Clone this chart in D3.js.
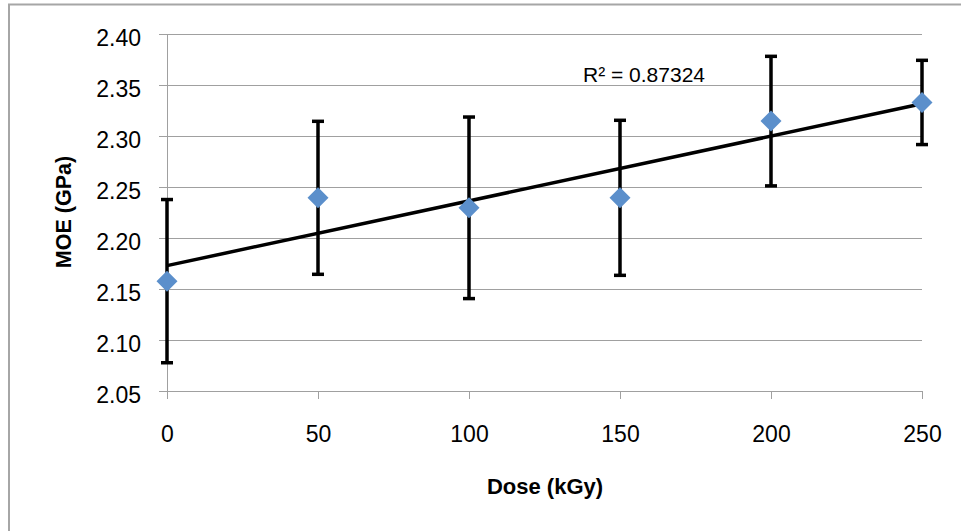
<!DOCTYPE html>
<html>
<head>
<meta charset="utf-8">
<script src="https://cdn.jsdelivr.net/npm/d3@7"></script>
<style>
  body { margin: 0; background: #fff; }
  svg { display: block; }
</style>
</head>
<body>
<svg id="chart"></svg>
<script>
/* data */
var doses = [0, 50, 100, 150, 200, 250];
var moe = [2.1577, 2.2394, 2.2296, 2.2394, 2.3146, 2.3329];
var moeErr = [0.080, 0.075, 0.089, 0.076, 0.0635, 0.0413];
var xTicks = [0, 50, 100, 150, 200, 250];
var yTicks = [2.05, 2.10, 2.15, 2.20, 2.25, 2.30, 2.35, 2.40];
var r2Label = "R\u00b2 = 0.87324";

var W = 961, H = 531;
var margin = {left: 167, right: 39, top: 34, bottom: 140};

var svg = d3.select('#chart')
    .attr('width', W)
    .attr('height', H);

// outer chart border (only top and left edges fall inside the frame)
svg.append('rect')
    .attr('x', 9).attr('y', 4.5)
    .attr('width', W + 20).attr('height', H + 20)
    .attr('fill', 'none')
    .attr('stroke', '#a6a6a6')
    .attr('stroke-width', 2);

var x = d3.scaleLinear().domain([0, 250]).range([margin.left, W - margin.right]);
var y = d3.scaleLinear().domain([2.05, 2.40]).range([H - margin.bottom, margin.top]);

var gridColor = '#a0a0a0';
var font = "'Liberation Sans', Arial, sans-serif";

// horizontal gridlines + y ticks
var yAxis = svg.append('g')
    .attr('transform', `translate(${margin.left},0)`)
    .call(d3.axisLeft(y).tickValues(yTicks).tickSize(8).tickSizeOuter(0).tickFormat(d3.format('.2f')));
yAxis.select('.domain').attr('stroke', gridColor).attr('stroke-width', 1.5);
yAxis.selectAll('.tick line').attr('stroke', gridColor).attr('stroke-width', 1.5);
yAxis.selectAll('.tick').append('line')
    .attr('x1', 0).attr('x2', x(250) - margin.left)
    .attr('stroke', gridColor).attr('stroke-width', 1.5);
yAxis.selectAll('.tick text')
    .attr('x', -26)
    .attr('dy', '0.48em')
    .attr('font-family', font)
    .attr('font-size', '23px')
    .attr('fill', '#000');

// x axis
var xAxis = svg.append('g')
    .attr('transform', `translate(0,${y(2.05)})`)
    .call(d3.axisBottom(x).tickValues(xTicks).tickSize(8).tickSizeOuter(0));
xAxis.select('.domain').attr('stroke', gridColor).attr('stroke-width', 1.5);
xAxis.selectAll('.tick line').attr('stroke', gridColor).attr('stroke-width', 1.5);
xAxis.selectAll('.tick text')
    .attr('y', 35)
    .attr('font-family', font)
    .attr('font-size', '23px')
    .attr('fill', '#000');
svg.selectAll('.domain, .tick line').attr('shape-rendering', 'crispEdges');

// axis titles
svg.append('text')
    .attr('x', 545).attr('y', 494)
    .attr('text-anchor', 'middle')
    .attr('font-family', font)
    .attr('font-weight', 'bold')
    .attr('font-size', '22px')
    .text('Dose (kGy)');

svg.append('text')
    .attr('transform', 'translate(71,212) rotate(-90)')
    .attr('text-anchor', 'middle')
    .attr('font-family', font)
    .attr('font-weight', 'bold')
    .attr('font-size', '21.5px')
    .text('MOE (GPa)');

// error bars
var pts = doses.map((d, i) => ({x: d, y: moe[i], e: moeErr[i]}));
var eb = svg.append('g').selectAll('g.err')
    .data(pts)
    .enter()
    .append('g')
    .attr('class', 'err')
    .attr('stroke', '#000')
    .attr('stroke-width', 3.5);
eb.append('line')
    .attr('x1', d => x(d.x)).attr('x2', d => x(d.x))
    .attr('y1', d => y(d.y - d.e)).attr('y2', d => y(d.y + d.e));
eb.append('line')
    .attr('x1', d => x(d.x) - 6).attr('x2', d => x(d.x) + 6)
    .attr('y1', d => y(d.y + d.e)).attr('y2', d => y(d.y + d.e));
eb.append('line')
    .attr('x1', d => x(d.x) - 6).attr('x2', d => x(d.x) + 6)
    .attr('y1', d => y(d.y - d.e)).attr('y2', d => y(d.y - d.e));

// linear trendline (least squares over the points)
var mx = d3.mean(doses), my = d3.mean(moe);
var sxy = d3.sum(doses, (d, i) => (d - mx) * (moe[i] - my));
var sxx = d3.sum(doses, d => (d - mx) * (d - mx));
var slope = sxy / sxx, icpt = my - slope * mx;
svg.append('line')
    .attr('x1', x(0)).attr('y1', y(icpt))
    .attr('x2', x(250)).attr('y2', y(icpt + slope * 250))
    .attr('stroke', '#000')
    .attr('stroke-width', 3.5);

// diamond markers
svg.append('g').selectAll('path')
    .data(pts)
    .enter()
    .append('path')
    .attr('d', d => {
        var cx = x(d.x), cy = y(d.y), r = 10.5;
        return `M${cx},${cy - r}L${cx + r},${cy}L${cx},${cy + r}L${cx - r},${cy}Z`;
    })
    .attr('fill', '#5b8fcb');

// R² label
svg.append('text')
    .attr('x', 583).attr('y', 82)
    .attr('font-family', font)
    .attr('font-size', '21px')
    .text(r2Label);
</script>
</body>
</html>
